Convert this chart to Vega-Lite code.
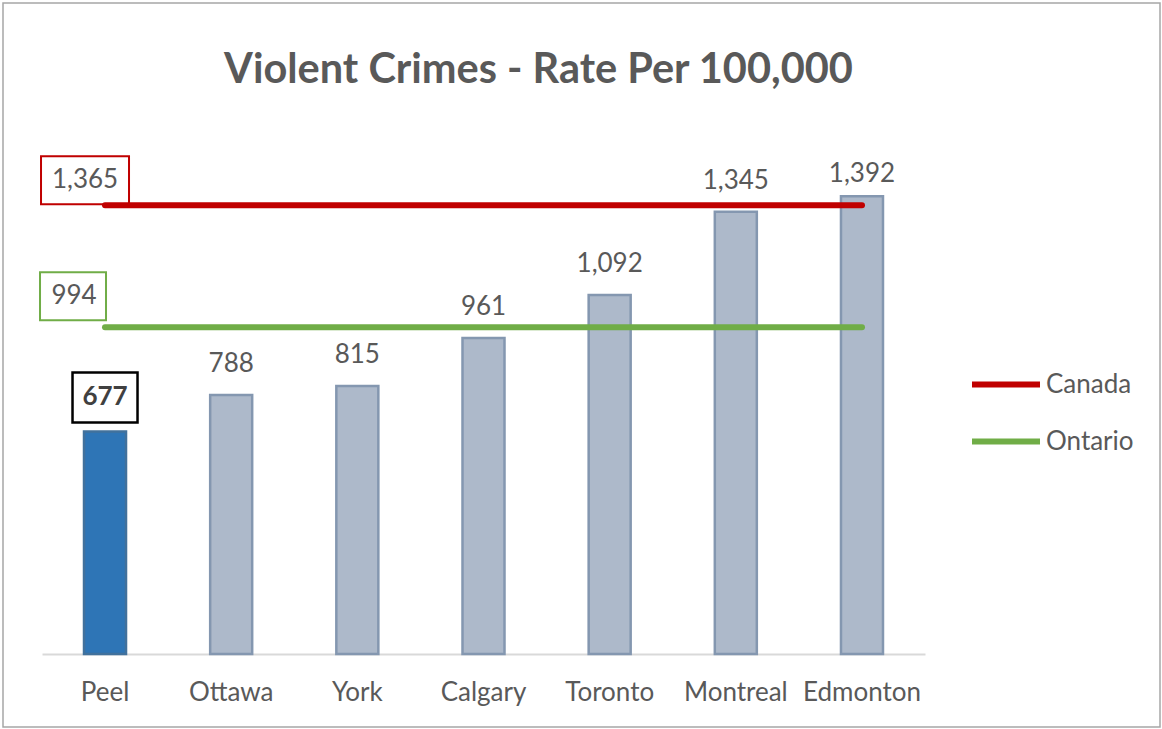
{
  "$schema": "https://vega.github.io/schema/vega-lite/v6.json",
  "width": 1157,
  "height": 724,
  "autosize": "none",
  "padding": {"left": 3, "top": 3, "right": 2, "bottom": 2},
  "background": "white",
  "config": {
    "view": {"stroke": "#a6a6a6", "strokeWidth": 1.5},
    "font": "Lato"
  },
  "title": {
    "text": "Violent Crimes - Rate Per 100,000",
    "font": "Lato",
    "fontSize": 41.5,
    "fontWeight": "bold",
    "color": "#595959",
    "anchor": "middle",
    "baseline": "alphabetic",
    "offset": -121,
    "dx": -43
  },
  "datasets": {
    "cities": [
      {"city": "Peel", "rate": 677},
      {"city": "Ottawa", "rate": 788},
      {"city": "York", "rate": 815},
      {"city": "Calgary", "rate": 961},
      {"city": "Toronto", "rate": 1092},
      {"city": "Montreal", "rate": 1345},
      {"city": "Edmonton", "rate": 1392}
    ],
    "lines": [
      {"series": "Canada", "value": 1365, "start": "Peel", "end": "Edmonton"},
      {"series": "Ontario", "value": 994, "start": "Peel", "end": "Edmonton"}
    ]
  },
  "layer": [
    {
      "data": {"name": "cities"},
      "mark": {"type": "bar", "strokeWidth": 2.5},
      "encoding": {
        "x": {
          "field": "city", "type": "nominal",
          "scale": {"domain": ["Peel","Ottawa","York","Calgary","Toronto","Montreal","Edmonton"], "range": [39, 922], "paddingInner": 0.667, "paddingOuter": 0.333},
          "axis": {
            "title": null, "orient": "bottom", "offset": -73, "labelAngle": 0,
            "ticks": false, "domainColor": "#d9d9d9", "domainWidth": 2,
            "labelFont": "Lato", "labelFontSize": 26, "labelColor": "#595959", "labelPadding": 25
          }
        },
        "y": {"field": "rate", "type": "quantitative", "scale": {"domain": [-222, 1980]}, "axis": null},
        "y2": {"datum": 0},
        "color": {"condition": {"test": "datum.city === 'Peel'", "value": "#2e75b6"}, "value": "#adb9ca"},
        "stroke": {"condition": {"test": "datum.city === 'Peel'", "value": "#41719c"}, "value": "#8497b0"}
      }
    },
    {
      "data": {"name": "cities"},
      "transform": [{"filter": "datum.city !== 'Peel' && datum.city !== 'Edmonton'"}],
      "mark": {"type": "text", "baseline": "middle", "dy": -31, "fontSize": 26, "color": "#595959", "font": "Lato"},
      "encoding": {
        "x": {"field": "city", "type": "nominal", "scale": {"domain": ["Peel","Ottawa","York","Calgary","Toronto","Montreal","Edmonton"], "range": [39, 922], "paddingInner": 0.667, "paddingOuter": 0.333}},
        "y": {"field": "rate", "type": "quantitative", "scale": {"domain": [-222, 1980]}, "axis": null},
        "text": {"field": "rate", "type": "quantitative", "format": ","}
      }
    },
    {
      "data": {"name": "cities"},
      "transform": [{"filter": "datum.city === 'Edmonton'"}],
      "mark": {"type": "text", "baseline": "middle", "dy": -22, "fontSize": 26, "color": "#595959", "font": "Lato"},
      "encoding": {
        "x": {"field": "city", "type": "nominal", "scale": {"domain": ["Peel","Ottawa","York","Calgary","Toronto","Montreal","Edmonton"], "range": [39, 922], "paddingInner": 0.667, "paddingOuter": 0.333}},
        "y": {"field": "rate", "type": "quantitative", "scale": {"domain": [-222, 1980]}, "axis": null},
        "text": {"field": "rate", "type": "quantitative", "format": ","}
      }
    },
    {
      "data": {"name": "cities"},
      "transform": [{"filter": "datum.city === 'Peel'"}],
      "mark": {"type": "point", "shape": "M-1,-0.77H1V0.77H-1Z", "size": 4225, "filled": false, "stroke": "#000000", "strokeWidth": 2.5, "opacity": 1, "yOffset": -34},
      "encoding": {
        "x": {"field": "city", "type": "nominal", "scale": {"domain": ["Peel","Ottawa","York","Calgary","Toronto","Montreal","Edmonton"], "range": [39, 922], "paddingInner": 0.667, "paddingOuter": 0.333}},
        "y": {"field": "rate", "type": "quantitative", "scale": {"domain": [-222, 1980]}, "axis": null}
      }
    },
    {
      "data": {"name": "cities"},
      "transform": [{"filter": "datum.city === 'Peel'"}],
      "mark": {"type": "text", "baseline": "middle", "dy": -34, "fontSize": 26, "fontWeight": "bold", "color": "#404040", "font": "Lato"},
      "encoding": {
        "x": {"field": "city", "type": "nominal", "scale": {"domain": ["Peel","Ottawa","York","Calgary","Toronto","Montreal","Edmonton"], "range": [39, 922], "paddingInner": 0.667, "paddingOuter": 0.333}},
        "y": {"field": "rate", "type": "quantitative", "scale": {"domain": [-222, 1980]}, "axis": null},
        "text": {"field": "rate", "type": "quantitative", "format": ","}
      }
    },
    {
      "data": {"name": "lines"},
      "mark": {"type": "rule", "strokeWidth": 6, "strokeCap": "round"},
      "encoding": {
        "x": {"field": "start", "type": "nominal", "bandPosition": 0.5, "scale": {"domain": ["Peel","Ottawa","York","Calgary","Toronto","Montreal","Edmonton"], "range": [39, 922], "paddingInner": 0.667, "paddingOuter": 0.333}},
        "x2": {"field": "end", "bandPosition": 0.5},
        "y": {"field": "value", "type": "quantitative", "scale": {"domain": [-222, 1980]}, "axis": null},
        "color": {
          "field": "series", "type": "nominal",
          "scale": {"domain": ["Canada", "Ontario"], "range": ["#c00000", "#70ad47"]},
          "legend": {
            "title": null, "orient": "none", "legendX": 966, "legendY": 353,
            "symbolType": "stroke", "symbolSize": 4624, "symbolStrokeWidth": 6,
            "labelFont": "Lato", "labelFontSize": 26, "labelColor": "#595959", "labelOffset": 3,
            "rowPadding": 0, "padding": 0, "clipHeight": 57
          }
        }
      }
    },
    {
      "data": {"name": "lines"},
      "transform": [{"filter": "datum.series === 'Canada'"}],
      "mark": {"type": "point", "shape": "M-1,-0.545H1V0.545H-1Z", "size": 7744, "filled": false, "stroke": "#c00000", "strokeWidth": 2, "opacity": 1, "xOffset": -20, "yOffset": -25},
      "encoding": {
        "x": {"field": "start", "type": "nominal", "scale": {"domain": ["Peel","Ottawa","York","Calgary","Toronto","Montreal","Edmonton"], "range": [39, 922], "paddingInner": 0.667, "paddingOuter": 0.333}},
        "y": {"field": "value", "type": "quantitative", "scale": {"domain": [-222, 1980]}, "axis": null}
      }
    },
    {
      "data": {"name": "lines"},
      "transform": [{"filter": "datum.series === 'Ontario'"}],
      "mark": {"type": "point", "shape": "M-1,-0.727H1V0.727H-1Z", "size": 4356, "filled": false, "stroke": "#70ad47", "strokeWidth": 2, "opacity": 1, "xOffset": -32, "yOffset": -31},
      "encoding": {
        "x": {"field": "start", "type": "nominal", "scale": {"domain": ["Peel","Ottawa","York","Calgary","Toronto","Montreal","Edmonton"], "range": [39, 922], "paddingInner": 0.667, "paddingOuter": 0.333}},
        "y": {"field": "value", "type": "quantitative", "scale": {"domain": [-222, 1980]}, "axis": null}
      }
    },
    {
      "data": {"name": "lines"},
      "transform": [{"filter": "datum.series === 'Canada'"}],
      "mark": {"type": "text", "baseline": "middle", "dx": -20, "dy": -25, "fontSize": 26, "color": "#595959", "font": "Lato"},
      "encoding": {
        "x": {"field": "start", "type": "nominal", "scale": {"domain": ["Peel","Ottawa","York","Calgary","Toronto","Montreal","Edmonton"], "range": [39, 922], "paddingInner": 0.667, "paddingOuter": 0.333}},
        "y": {"field": "value", "type": "quantitative", "scale": {"domain": [-222, 1980]}, "axis": null},
        "text": {"field": "value", "type": "quantitative", "format": ","}
      }
    },
    {
      "data": {"name": "lines"},
      "transform": [{"filter": "datum.series === 'Ontario'"}],
      "mark": {"type": "text", "baseline": "middle", "dx": -31, "dy": -31, "fontSize": 26, "color": "#595959", "font": "Lato"},
      "encoding": {
        "x": {"field": "start", "type": "nominal", "scale": {"domain": ["Peel","Ottawa","York","Calgary","Toronto","Montreal","Edmonton"], "range": [39, 922], "paddingInner": 0.667, "paddingOuter": 0.333}},
        "y": {"field": "value", "type": "quantitative", "scale": {"domain": [-222, 1980]}, "axis": null},
        "text": {"field": "value", "type": "quantitative", "format": ","}
      }
    }
  ]
}
